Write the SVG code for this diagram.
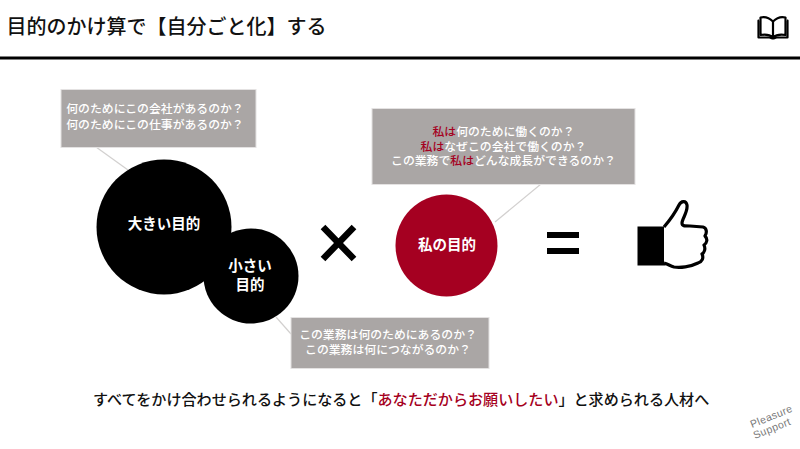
<svg xmlns="http://www.w3.org/2000/svg" width="800" height="449" viewBox="0 0 800 449">
<style>
text{font-family:"Noto Sans CJK JP","Noto Sans",sans-serif;font-weight:500}
.box{fill:#aaa6a5;stroke:#e4e2e2;stroke-width:1}
.bt{fill:#fff;font-size:11.850px;text-anchor:middle}
.red{fill:#a50021}
.lead{stroke:#d2d0cf;stroke-width:1.2;fill:none}
.nt{fill:#fff;font-size:14.500px;text-anchor:middle;font-weight:700}
.logo{font-family:"Liberation Sans",sans-serif;font-weight:400;font-size:10.500px;fill:#777;letter-spacing:0.4px}
</style>
<rect width="800" height="449" fill="#fff"/>
<text id="title" x="6.500" y="34" font-size="20" fill="#111">目的のかけ算で【自分ごと化】する</text>
<rect x="0" y="56.500" width="800" height="3" fill="#000"/>
<g id="icon-book" fill="none" stroke="#000" stroke-width="2.200" stroke-linejoin="round">
<path d="M773 21.500C769 17.500 764 16.500 760.500 17.500V35C765 34.200 770 34.800 773 37.500C776 34.800 781 34.200 785.500 35V17.500C782 16.500 777 17.500 773 21.500ZM773 21.500V37.500"/>
<path d="M759 20.500H758.500V37.500H769C771 37.500 772 38.500 773 38.500C774 38.500 775 37.500 777 37.500H787.500V20.500H787"/>
</g>
<g id="connectors">
<path class="lead" d="M96 147L128 170"/>
<path class="lead" d="M276 317L291 334"/>
<path class="lead" d="M541 184L495 222"/>
</g>
<g id="note-top-left">
<rect class="box" x="61" y="89.500" width="195" height="58"/>
<text class="bt" x="155" y="112.500">何のためにこの会社があるのか？</text>
<text class="bt" x="155" y="128.500">何のためにこの仕事があるのか？</text>
</g>
<g id="note-top-right">
<rect class="box" x="372" y="108.500" width="263" height="76"/>
<text class="bt" x="503.500" y="135.500"><tspan class="red">私は</tspan>何のために働くのか？</text>
<text class="bt" x="503.500" y="150.500"><tspan class="red">私は</tspan>なぜこの会社で働くのか？</text>
<text class="bt" x="503.500" y="164.500">この業務で<tspan class="red">私は</tspan>どんな成長ができるのか？</text>
</g>
<g id="note-bottom">
<rect class="box" x="291" y="317.500" width="198" height="51"/>
<text class="bt" x="388" y="338.500">この業務は何のためにあるのか？</text>
<text class="bt" x="388" y="354">この業務は何につながるのか？</text>
</g>
<g id="node-big">
<circle cx="164" cy="227" r="67.500" fill="#000"/>
<text class="nt" x="164" y="229">大きい目的</text>
</g>
<g id="node-small">
<circle cx="251" cy="276" r="47.500" fill="#000"/>
<text class="nt" x="250" y="271">小さい</text>
<text class="nt" x="250" y="290">目的</text>
</g>
<g id="node-me">
<circle cx="446.500" cy="245.500" r="51" fill="#a50021"/>
<text class="nt" x="447" y="250">私の目的</text>
</g>
<g id="times" stroke="#000" stroke-width="6.500">
<path d="M323 227L354 259M354 227L323 259"/>
</g>
<g id="equals" fill="#000">
<rect x="547" y="232" width="32" height="6"/>
<rect x="547" y="248" width="32" height="6"/>
</g>
<g id="thumb">
<rect x="637.500" y="226.500" width="28" height="39" fill="#000"/>
<path d="M664 227C670 220 675 213 679 205C681 201 686 200 687 205C688 212 682 219 682 223C682 226 684 226 690 226L703 227C707 228 707 233 705 236C708 239 707 243 704 245C706 249 704 253 702 254C704 258 702 262 698 263C690 267 680 268 674 267C670 266 668 264 664 263" fill="#fff" stroke="#000" stroke-width="3.200" stroke-linejoin="round"/>
</g>
<text id="tagline" x="93" y="404.500" font-size="15.080" fill="#111">すべてをかけ合わせられるようになると「<tspan class="red">あなただからお願いしたい</tspan>」と求められる人材へ</text>
<g id="logo">
<text class="logo" transform="translate(752 428) rotate(-22)">Pleasure</text>
<text class="logo" transform="translate(755 439) rotate(-22)">Support</text>
</g>
</svg>
